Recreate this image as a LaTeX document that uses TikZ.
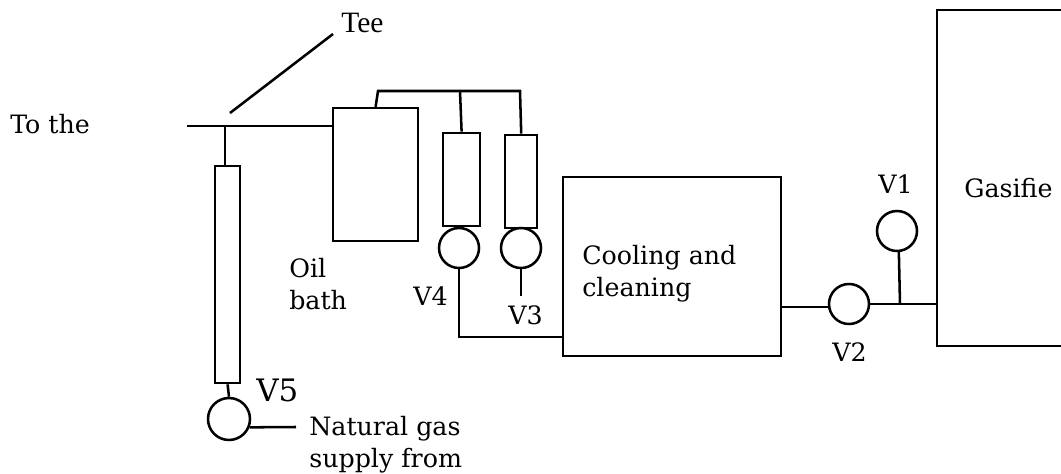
\documentclass[tikz,border=0pt]{standalone}
\usepackage{fontspec}
\setmainfont{DejaVu Serif}
\newfontfamily\teefont{Liberation Serif}
\usetikzlibrary{positioning}

\begin{document}
\begin{tikzpicture}[
  font=\fontsize{18}{22.5}\selectfont,
  line/.style={draw=black, line width=1.8pt},
  vessel/.style={line, fill=white, inner sep=0pt},
  valve/.style={line, fill=white, circle, inner sep=0pt, minimum size=1.0cm},
  label/.style={anchor=base west, inner sep=0pt, align=left}
]
\useasboundingbox (0,0) rectangle (26.525,11.825);

% Vessels.
\node[vessel, minimum width=2.125cm, minimum height=3.325cm] (oilbath) at (9.39,7.46) {};
\node[vessel, minimum width=0.925cm, minimum height=2.325cm] (tubefour) at (11.54,7.34) {};
\node[vessel, minimum width=0.8cm, minimum height=2.325cm] (tubethree) at (13.03,7.29) {};
\node[vessel, minimum width=0.625cm, minimum height=5.425cm] (tubefive) at (5.69,4.96) {};
\node[vessel, minimum width=5.45cm, minimum height=4.475cm] (cooling) at (16.8,5.1625) {};
\node[vessel, minimum width=3.45cm, minimum height=8.4cm] (gasifier) at (25.15,7.375) {};

% Valves.
\node[valve] (vfour) at (11.475,5.625) {};
\node[valve] (vthree) at (13.025,5.625) {};
\node[valve, minimum size=1.05cm] (vfive) at (5.725,1.35) {};
\node[valve] (vtwo) at (21.225,4.225) {};
\node[valve] (vone) at (22.425,6.05) {};

% Free ends.
\coordinate (teetop) at (8.325,10.975);
\coordinate (teetip) at (5.75,9.0);
\coordinate (lineend) at (4.675,8.675);
\coordinate (teejoint) at (5.625,8.675);
\coordinate (manifoldleft) at (9.45,9.55);
\coordinate (manifoldmid) at (11.5,9.55);
\coordinate (manifoldright) at (13.0,9.55);
\coordinate (coolingin) at (14.075,3.4);
\coordinate (vthreeend) at (13.025,4.425);
\coordinate (supplyend) at (7.4,1.15);
\coordinate (vonejoint) at (22.5,4.225);

% Gas lines.
\draw[line] (teetop) -- (teetip);
\draw[line] (lineend) -- (lineend -| oilbath.west);
\draw[line] (teejoint) -- (teejoint |- tubefive.north);
\draw[line] (oilbath.north) -- (manifoldleft) -- (manifoldright) -- (tubethree.north);
\draw[line] (manifoldmid) -- (tubefour.north);
\draw[line] (vfour.south) |- (coolingin);
\draw[line] (vthree.south) -- (vthreeend);
\draw[line] (tubefive.south) -- (vfive.north);
\draw[line] (vfive.-22) -- (supplyend);
\draw[line] (vtwo.188) -- (vtwo.188 -| cooling.east);
\draw[line] (vtwo.east) -- (vtwo.east -| gasifier.west);
\draw[line] (vone.-85) -- (vonejoint);

% Labels.
\node[label, font=\teefont\fontsize{21}{24}\selectfont] (teelabel) at (8.525,11.0) {Tee};
\node[label] (tothe) at (0.25,8.5) {To the};
\node[label] (oillabel) at (7.225,4.1) {Oil\\bath};
\node[label] (vfourlabel) at (10.325,4.2) {V4};
\node[label] (vthreelabel) at (12.7,3.72) {V3};
\node[label, font=\fontsize{22}{26}\selectfont] (vfivelabel) at (6.4,1.8) {V5};
\node[label] (supplylabel) at (7.725,0.14) {Natural gas\\supply from};
\node[label] (coolinglabel) at (14.55,4.41) {Cooling and\\cleaning};
\node[label] (vonelabel) at (21.95,7.0) {V1};
\node[label] (vtwolabel) at (20.8,2.8) {V2};
\node[label] (gasifierlabel) at (24.1,6.9) {Gasifie};

\end{tikzpicture}
\end{document}
